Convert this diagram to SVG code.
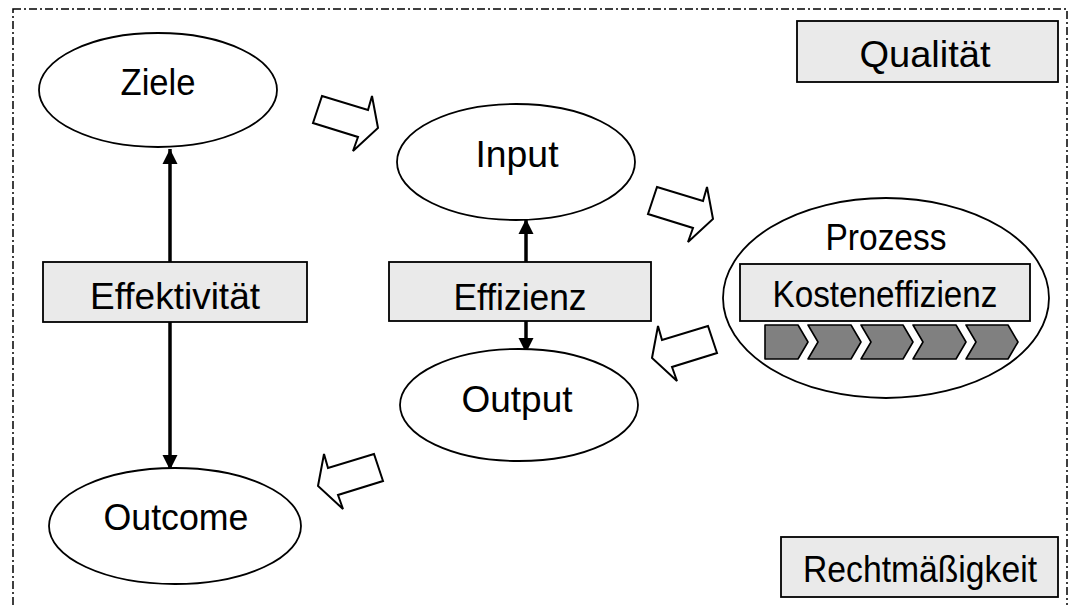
<svg xmlns="http://www.w3.org/2000/svg" width="1075" height="605" viewBox="0 0 1075 605">
  <style>
    .frame { fill: none; stroke: #000; stroke-width: 1.5; stroke-dasharray: 8 3 2 3; }
    .oval { fill: #fff; stroke: #000; stroke-width: 1.8; }
    .box { fill: #eaeaea; stroke: #000; stroke-width: 1.8; }
    .flow { fill: #fff; stroke: #000; stroke-width: 2; stroke-linejoin: miter; }
    .link { stroke: #000; stroke-width: 3.5; fill: none; }
    .step { fill: #808080; stroke: #000; stroke-width: 1.6; stroke-linejoin: round; }
    text { font-family: "Liberation Sans", Arial, sans-serif; font-size: 37px; fill: #000; text-anchor: middle; }
  </style>
  <defs>
    <marker id="tip" viewBox="0 0 10 10" refX="10" refY="5" markerWidth="4.4" markerHeight="4.4" orient="auto" markerUnits="strokeWidth">
      <path d="M0,0 L10,5 L0,10 Z" fill="#000"/>
    </marker>
    <!-- hollow block arrow pointing right-down -->
    <polygon id="blockArrow" points="322,96 368,110 372,96 378,128 353,151 358,137 313,123"/>
  </defs>

  <rect class="frame" x="13" y="9" width="1054" height="620"/>

  <!-- connectors -->
  <g id="connectors">
    <line class="link" x1="170" y1="270" x2="170" y2="149" marker-end="url(#tip)"/>
    <line class="link" x1="170" y1="300" x2="170" y2="470" marker-end="url(#tip)"/>
    <line class="link" x1="526" y1="262" x2="526" y2="219" marker-end="url(#tip)"/>
    <line class="link" x1="526" y1="321" x2="526" y2="353" marker-end="url(#tip)"/>
    <use href="#blockArrow" class="flow"/>
    <use href="#blockArrow" class="flow" transform="translate(335,91)"/>
    <use href="#blockArrow" class="flow" transform="translate(1030,230) scale(-1,1)"/>
    <use href="#blockArrow" class="flow" transform="translate(696,358) scale(-1,1)"/>
  </g>

  <g id="ziele">
    <ellipse class="oval" cx="158" cy="90" rx="119" ry="57"/>
    <text x="158" y="95" textLength="75" lengthAdjust="spacingAndGlyphs">Ziele</text>
  </g>

  <g id="input">
    <ellipse class="oval" cx="516" cy="162" rx="119" ry="58"/>
    <text x="517" y="167" textLength="83" lengthAdjust="spacingAndGlyphs">Input</text>
  </g>

  <g id="effektivitaet">
    <rect class="box" x="43" y="262" width="264" height="60"/>
    <text x="175" y="309" textLength="170" lengthAdjust="spacingAndGlyphs">Effektivität</text>
  </g>

  <g id="effizienz">
    <rect class="box" x="389" y="262" width="262" height="59"/>
    <text x="520" y="310" textLength="133" lengthAdjust="spacingAndGlyphs">Effizienz</text>
  </g>

  <g id="output">
    <ellipse class="oval" cx="519" cy="405" rx="119" ry="56"/>
    <text x="517" y="412" textLength="111" lengthAdjust="spacingAndGlyphs">Output</text>
  </g>

  <g id="outcome">
    <ellipse class="oval" cx="175" cy="526" rx="126" ry="58"/>
    <text x="176" y="530" textLength="145" lengthAdjust="spacingAndGlyphs">Outcome</text>
  </g>

  <g id="prozess">
    <ellipse class="oval" cx="886" cy="298" rx="163" ry="100"/>
    <text x="886" y="250" textLength="121" lengthAdjust="spacingAndGlyphs">Prozess</text>
    <rect class="box" x="740" y="264" width="290" height="57"/>
    <text x="885" y="307" font-size="35" textLength="225" lengthAdjust="spacingAndGlyphs">Kosteneffizienz</text>
    <g id="steps">
      <polygon class="step" points="765,325 798,325 808,342 798,359 765,359"/>
      <polygon class="step" points="808,325 851,325 861,342 851,359 808,359 818,342"/>
      <polygon class="step" points="861,325 903,325 913,342 903,359 861,359 871,342"/>
      <polygon class="step" points="913,325 956,325 966,342 956,359 913,359 923,342"/>
      <polygon class="step" points="966,325 1008,325 1018,342 1008,359 966,359 976,342"/>
    </g>
  </g>

  <g id="qualitaet">
    <rect class="box" x="797" y="21" width="261" height="61"/>
    <text x="925" y="67" textLength="131" lengthAdjust="spacingAndGlyphs">Qualität</text>
  </g>

  <g id="rechtmaessigkeit">
    <rect class="box" x="781" y="537" width="277" height="60"/>
    <text x="920" y="582" textLength="234" lengthAdjust="spacingAndGlyphs">Rechtmäßigkeit</text>
  </g>
</svg>
